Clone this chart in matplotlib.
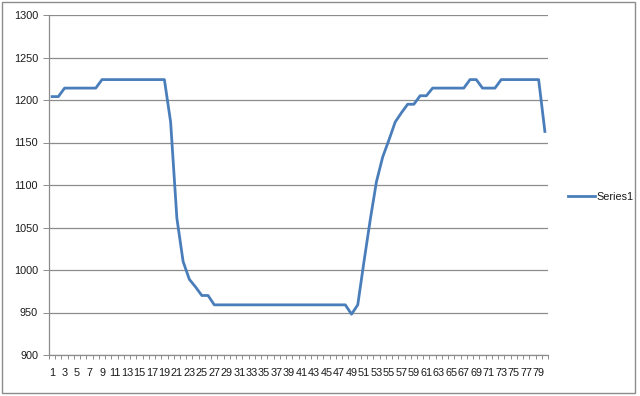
import numpy as np
import matplotlib
matplotlib.use("Agg")
import matplotlib.pyplot as plt
from matplotlib.patches import Rectangle

plt.rcParams['font.family'] = ['Liberation Sans', 'DejaVu Sans']

#%% Data
categories = list(range(1, 81))
series1 = [1204, 1204,
           1214, 1214, 1214, 1214, 1214, 1214,
           1224, 1224, 1224, 1224, 1224, 1224, 1224, 1224, 1224, 1224, 1224,
           1174, 1061, 1010, 989, 980, 970, 970,
           959, 959, 959, 959, 959, 959, 959, 959, 959, 959, 959,
           959, 959, 959, 959, 959, 959, 959, 959, 959, 959, 959,
           948, 959,
           1010, 1059, 1104, 1133, 1153, 1174, 1185, 1195, 1195, 1205, 1205,
           1214, 1214, 1214, 1214, 1214, 1214,
           1224, 1224,
           1214, 1214, 1214,
           1224, 1224, 1224, 1224, 1224, 1224, 1224,
           1163]
y_ticks = [900, 950, 1000, 1050, 1100, 1150, 1200, 1250, 1300]
series_name = "Series1"

#%% Plot
W, H = 640, 396
fig = plt.figure(figsize=(W / 100, H / 100), dpi=100)
fig.patches.append(Rectangle((2 / W, 3 / H), 633 / W, 391 / H, transform=fig.transFigure,
                             fill=False, edgecolor='#8c8c8c', linewidth=1.0))

ax = fig.add_axes([49 / W, (H - 355) / H, 499 / W, 340 / H])
line, = ax.plot(categories, series1, color='#4a7ebb', linewidth=2.0,
                solid_joinstyle='round', label=series_name)

ax.set_xlim(0.5, len(categories) + 0.5)
ax.set_ylim(y_ticks[0], y_ticks[-1])
ax.set_yticks(y_ticks)
ax.yaxis.grid(True, color='#8c8c8c', linewidth=0.9)
ax.set_axisbelow(True)

ax.set_xticks(categories[::2])
ax.set_xticklabels([str(c) for c in categories[::2]])
ax.set_xticks(np.arange(0.5, len(categories) + 1, 1), minor=True)
ax.tick_params(axis='x', which='major', length=0, pad=9, labelsize=7.8, colors='#1a1a1a')
ax.tick_params(axis='x', which='minor', length=3, width=0.7, color='#8c8c8c', direction='out')
ax.tick_params(axis='y', which='major', length=4.3, width=0.7, color='#8c8c8c',
               labelsize=7.8, labelcolor='#1a1a1a', pad=3.6)

for s in ['top', 'right']:
    ax.spines[s].set_visible(False)
for s in ['left', 'bottom']:
    ax.spines[s].set_color('#8c8c8c')
    ax.spines[s].set_linewidth(0.9)

fig.legend(handles=[line], loc='center left', bbox_to_anchor=(558 / W, (H - 197) / H),
           frameon=False, fontsize=7.8, handlelength=2.5, handletextpad=0.15,
           labelcolor='#1a1a1a')

plt.savefig('out.png', dpi=100)
